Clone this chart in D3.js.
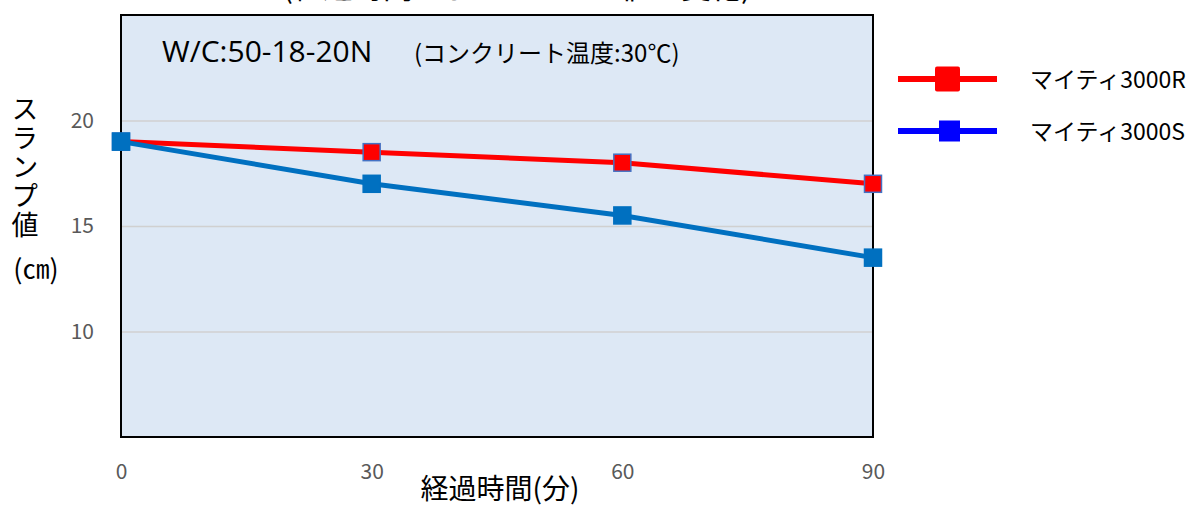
<!DOCTYPE html>
<html>
<head>
<meta charset="utf-8">
<script src="https://cdn.jsdelivr.net/npm/d3@7"></script>
<style>
  body { margin: 0; background: #fff; }
  text { font-family: "Noto Sans CJK JP", "Noto Sans", sans-serif; }
</style>
</head>
<body>
<svg id="chart" width="1195" height="506"></svg>
<script>
// data
var minutes = [0, 30, 60, 90];
var slumpR = [19, 18.5, 18, 17];
var slumpS = [19, 17, 15.5, 13.5];
var seriesNames = ["マイティ3000R", "マイティ3000S"];
var yTicks = [10, 15, 20];
var xTicks = [0, 30, 60, 90];

const svg = d3.select("#chart");

var margin = {top: 15, left: 121, right: 322, bottom: 69};
var width = +svg.attr("width") - margin.left - margin.right;
var height = +svg.attr("height") - margin.top - margin.bottom;

var xScale = d3.scaleLinear().domain([0, 90]).range([0, width]);
var yScale = d3.scaleLinear().domain([5, 25]).range([height, 0]);

// title (mostly cut off at the top, as in the original)
svg.append("text")
  .attr("x", 517).attr("y", -2)
  .attr("text-anchor", "middle")
  .attr("font-size", 30)
  .text("(経過時間によるスランプ値の変化)");

var g = svg.append("g").attr("transform", `translate(${margin.left},${margin.top})`);

g.append("rect")
  .attr("width", width).attr("height", height)
  .attr("fill", "#dde8f5");

// grid + y labels
var yAxis = d3.axisLeft(yScale).tickValues(yTicks).tickSize(-width).tickPadding(27);
var yAxisG = g.append("g").call(yAxis);
yAxisG.select(".domain").remove();
yAxisG.selectAll(".tick line").attr("stroke", "#d0d0d0").attr("stroke-width", 1.5);
yAxisG.selectAll(".tick text")
  .attr("fill", "#595959").attr("font-size", 21)
  .attr("font-family", "'Open Sans', sans-serif");

var xAxis = d3.axisBottom(xScale).tickValues(xTicks).tickSize(0).tickPadding(27);
var xAxisG = g.append("g").attr("transform", `translate(0,${height})`).call(xAxis);
xAxisG.select(".domain").remove();
xAxisG.selectAll(".tick text")
  .attr("fill", "#595959").attr("font-size", 21)
  .attr("font-family", "'Open Sans', sans-serif");

g.append("rect")
  .attr("width", width).attr("height", height)
  .attr("fill", "none").attr("stroke", "#000").attr("stroke-width", 2);

// annotation
var ann = g.append("text").attr("x", 41).attr("y", 47).attr("fill", "#000");
ann.append("tspan").attr("font-size", 30).attr("font-family", "'Open Sans', sans-serif").text("W/C:50-18-20N");
ann.append("tspan").attr("font-size", 24).attr("x", 293).text("(コンクリート温度:30℃)");

// lines
var line = d3.line()
  .x((d, i) => xScale(minutes[i]))
  .y(d => yScale(d));

var series = [
  {name: seriesNames[0], values: slumpR, line: "#ff0000", fill: "#ff0000", stroke: "#4472c4"},
  {name: seriesNames[1], values: slumpS, line: "#0070c0", fill: "#0070c0", stroke: "#0070c0"}
];

series.forEach(s => {
  g.append("path")
    .attr("d", line(s.values))
    .attr("fill", "none")
    .attr("stroke", s.line)
    .attr("stroke-width", 5);
  g.selectAll(null).data(s.values).enter().append("rect")
    .attr("x", (d, i) => xScale(minutes[i]) - 8.5)
    .attr("y", d => yScale(d) - 8.5)
    .attr("width", 17).attr("height", 17)
    .attr("fill", s.fill)
    .attr("stroke", s.stroke).attr("stroke-width", 1.5);
});

// axis titles
svg.append("text")
  .attr("x", 25).attr("y", 95)
  .style("writing-mode", "vertical-rl")
  .attr("font-size", 27)
  .attr("letter-spacing", 2)
  .text("スランプ値");
svg.append("text")
  .attr("x", 36).attr("y", 279)
  .attr("text-anchor", "middle")
  .attr("font-size", 27)
  .text("(㎝)");

svg.append("text")
  .attr("x", 500).attr("y", 499)
  .attr("text-anchor", "middle")
  .attr("font-size", 28)
  .text("経過時間(分)");

// legend
var legendColors = [{line: "#ff0000", fill: "#ff0000", rx: 2, size: 25}, {line: "#0000ff", fill: "#0000ff", rx: 0, size: 21}];
var leg = svg.append("g").selectAll("g").data(seriesNames).enter().append("g")
  .attr("transform", (d, i) => `translate(898,${79 + i * 52})`);
leg.append("line")
  .attr("x1", 0).attr("x2", 99)
  .attr("stroke", (d, i) => legendColors[i].line).attr("stroke-width", 6);
leg.append("rect")
  .attr("x", (d, i) => 49.5 - legendColors[i].size / 2 + (i ? 2 : 0))
  .attr("y", (d, i) => -legendColors[i].size / 2)
  .attr("width", (d, i) => legendColors[i].size)
  .attr("height", (d, i) => legendColors[i].size)
  .attr("rx", (d, i) => legendColors[i].rx)
  .attr("fill", (d, i) => legendColors[i].fill);
leg.append("text")
  .attr("x", 132).attr("y", 9)
  .attr("font-size", 23)
  .text(d => d);
</script>
</body>
</html>
